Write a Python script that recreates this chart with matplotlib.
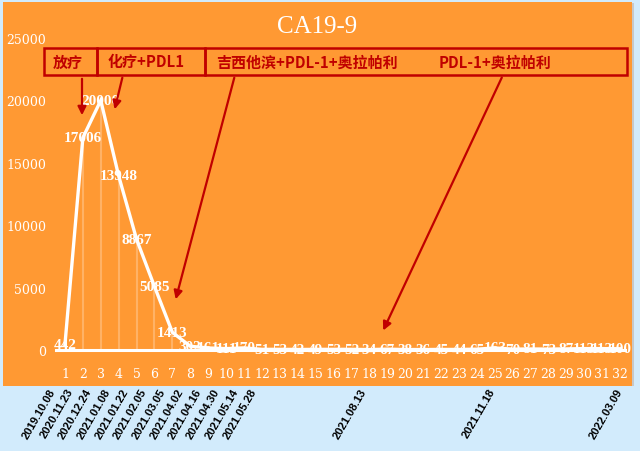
import matplotlib
matplotlib.use("Agg")
import matplotlib.pyplot as plt
from matplotlib.patches import Rectangle, FancyArrowPatch
import matplotlib.transforms as mtransforms

categories = list(range(1, 33))
values = [442, 17006, 20000, 13948, 8867, 5085, 1413, 302, 161, 111, 170, 51,
          53, 42, 49, 53, 52, 34, 67, 38, 36, 45, 44, 65, 163, 70, 81, 73, 87,
          113, 113, 100]
date_positions = [1, 2, 3, 4, 5, 6, 7, 8, 9, 10, 11, 12, 18, 25, 32]
date_labels = ["2019.10.08", "2020.11.23", "2020.12.24", "2021.01.08", "2021.01.22",
               "2021.02.05", "2021.03.05", "2021.04.02", "2021.04.16", "2021.04.30",
               "2021.05.14", "2021.05.28", "2021.08.13", "2021.11.18", "2022.03.09"]
yticks = [0, 5000, 10000, 15000, 20000, 25000]
phase_labels = ["放疗", "化疗+PDL1", "吉西他滨+PDL-1+奥拉帕利", "PDL-1+奥拉帕利"]

W, H = 640, 452
ORANGE = "#FF9933"
BLUE = "#D2EBFC"
RED = "#C00000"

fig = plt.figure(figsize=(W / 100, H / 100), dpi=100, facecolor=BLUE)

def fx(px):
    return px / W

def fy(py):
    return 1 - py / H

# orange panel with thin right shadow
fig.add_artist(Rectangle((fx(4), fy(387)), fx(634) - fx(4), fy(4) - fy(387),
                         transform=fig.transFigure, facecolor="#C8C8C8",
                         edgecolor="none", zorder=0))
fig.add_artist(Rectangle((fx(3), fy(387)), fx(632) - fx(3), fy(3) - fy(387),
                         transform=fig.transFigure, facecolor=ORANGE,
                         edgecolor="none", zorder=0))

ax = fig.add_axes([fx(56), fy(351), fx(629) - fx(56), fy(39) - fy(351)])
ax.set_facecolor("none")
ax.set_xlim(0.5, 32.5)
ax.set_ylim(0, 25000)
for s in ["top", "right", "left"]:
    ax.spines[s].set_visible(False)
ax.spines["bottom"].set_color("white")
ax.spines["bottom"].set_linewidth(2.2)
ax.spines["bottom"].set_bounds(0.5, 32.3)

ax.set_xticks(categories)
ax.set_xticklabels([str(c) for c in categories], color="white",
                   fontfamily="DejaVu Serif", fontsize=9)
ax.set_yticks(yticks)
ax.set_yticklabels([str(v) for v in yticks], color="white",
                   fontfamily="DejaVu Serif", fontsize=9)
ax.tick_params(axis="both", length=0)
ax.tick_params(axis="x", pad=12)
ax.tick_params(axis="y", pad=7)

# faint drop lines
ax.vlines(categories, 0, values, colors="white", alpha=0.25, linewidth=1.5, zorder=2)
ax.plot(categories, values, color="white", linewidth=2.4, zorder=3,
        solid_joinstyle="miter")

for c, v in zip(categories, values):
    ax.text(c, v, str(v), color="white", fontfamily="Liberation Serif",
            fontweight="bold", fontsize=11, ha="center", va="center", zorder=4)

# date labels below panel (own slightly wider category axis)
dax = fig.add_axes([fx(47.8), fy(388), fx(47.8 + 586.2) - fx(47.8), 0.001])
dax.set_xlim(0.5, 32.5)
dax.set_ylim(0, 1)
dax.axis("off")
for p, d in zip(date_positions, date_labels):
    dax.text(p, 1, d, rotation=60, ha="right", va="top", fontsize=8,
             fontweight="bold", color="black", fontfamily="Liberation Sans",
             clip_on=False)

# title
fig.text(fx(317), fy(27), "CA19-9", color="white", fontfamily="Liberation Serif",
         fontsize=18, ha="center", va="center")

# phase boxes
boxes = [(44, 97), (97, 205), (205, 627)]
for x0, x1 in boxes:
    fig.add_artist(Rectangle((fx(x0), fy(76)), fx(x1) - fx(x0), fy(49) - fy(76),
                             transform=fig.transFigure, facecolor="none",
                             edgecolor=RED, linewidth=1.8, zorder=5))

cjk = ["Noto Sans CJK SC", "DejaVu Sans"]
fs = 10.8
fig.text(fx(68), fy(62.5), phase_labels[0], color=RED, family=cjk,
         fontweight="bold", fontsize=fs, ha="center", va="center")
fig.text(fx(146), fy(62.5), phase_labels[1], color=RED, family=cjk,
         fontweight="bold", fontsize=fs, ha="center", va="center")
fig.text(fx(216), fy(62.5), phase_labels[2], color=RED, family=cjk,
         fontweight="bold", fontsize=fs, ha="left", va="center")
fig.text(fx(439), fy(62.5), phase_labels[3], color=RED, family=cjk,
         fontweight="bold", fontsize=fs, ha="left", va="center")

arrows = [((82, 77), (82, 119)), ((123, 76), (114, 113)),
          ((235, 76), (175, 303)), ((503, 76), (382, 334))]
for (x0, y0), (x1, y1) in arrows:
    fig.add_artist(FancyArrowPatch(
        (fx(x0), fy(y0)), (fx(x1), fy(y1)), transform=fig.transFigure,
        arrowstyle="-|>,head_length=5,head_width=2.5", color=RED,
        linewidth=1.6, zorder=6))

fig.savefig("out.png", dpi=100, facecolor=BLUE)
